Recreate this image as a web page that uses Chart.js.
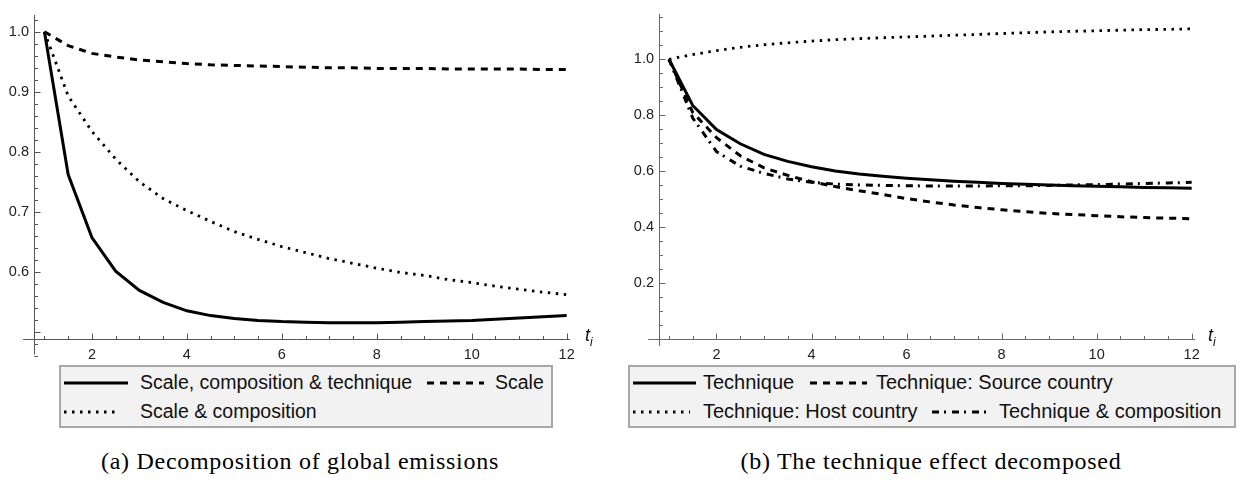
<!DOCTYPE html>
<html>
<head>
<meta charset="utf-8">
<script src="https://cdn.jsdelivr.net/npm/chart.js@4.4.0/dist/chart.umd.min.js"></script>
<style>
  body { margin: 0; background: #fff; width: 1241px; height: 495px; position: relative; overflow: hidden; font-family: "Liberation Sans", Arial, sans-serif; }
  canvas { position: absolute; top: 0; }
  .legend { position: absolute; background: #f2f2f2; border: 2px solid #a8a8a8; box-sizing: border-box; }
  .item { position: absolute; white-space: nowrap; color: #111; line-height: 20px; }
  .sample { position: absolute; }
  .caption { position: absolute; font-family: "Liberation Serif", serif; font-size: 24px; letter-spacing: 0.7px; text-align: center; width: 600px; }
  .tlab { position: absolute; font-style: italic; font-size: 18px; color: #111; }
  .tlab sub { font-size: 12px; }
</style>
</head>
<body>
<canvas id="chartA" width="615" height="366" style="left:0"></canvas>
<canvas id="chartB" width="621" height="366" style="left:620px"></canvas>
<div class="tlab" style="left:585px; top:325px">t<sub>i</sub></div>
<div class="tlab" style="left:1208px; top:325px">t<sub>i</sub></div>
<div class="caption" style="left:0; top:448px">(a) Decomposition of global emissions</div>
<div class="caption" style="left:631px; top:448px">(b) The technique effect decomposed</div>
<script>
// time points
const tValues = [1, 1.5, 2, 2.5, 3, 3.5, 4, 4.5, 5, 5.5, 6, 6.5, 7, 7.5, 8, 8.5, 9, 9.5, 10, 10.5, 11, 11.5, 12];

// (a) decomposition of global emissions
const scaleCompTech = [1.0, 0.762, 0.657, 0.601, 0.569, 0.549, 0.535, 0.527, 0.522, 0.519, 0.517, 0.516, 0.515, 0.515, 0.515, 0.516, 0.517, 0.518, 0.519, 0.521, 0.523, 0.525, 0.527];
const scaleOnly = [1.0, 0.977, 0.964, 0.958, 0.953, 0.950, 0.947, 0.945, 0.944, 0.943, 0.942, 0.941, 0.940, 0.940, 0.939, 0.939, 0.939, 0.938, 0.938, 0.938, 0.938, 0.937, 0.937];
const scaleComp = [1.0, 0.893, 0.834, 0.788, 0.750, 0.722, 0.702, 0.684, 0.667, 0.654, 0.642, 0.632, 0.622, 0.614, 0.606, 0.599, 0.594, 0.587, 0.582, 0.576, 0.571, 0.566, 0.562];

// (b) technique effect decomposed
const technique = [1.0, 0.835, 0.749, 0.698, 0.660, 0.635, 0.616, 0.601, 0.590, 0.582, 0.575, 0.569, 0.564, 0.560, 0.556, 0.553, 0.551, 0.548, 0.546, 0.544, 0.542, 0.541, 0.539];
const techSource = [1.0, 0.810, 0.720, 0.655, 0.612, 0.585, 0.562, 0.545, 0.530, 0.517, 0.502, 0.490, 0.479, 0.470, 0.462, 0.455, 0.449, 0.445, 0.441, 0.437, 0.434, 0.432, 0.430];
const techHost = [1.0, 1.017, 1.031, 1.043, 1.052, 1.059, 1.065, 1.070, 1.074, 1.077, 1.080, 1.083, 1.086, 1.089, 1.092, 1.095, 1.098, 1.100, 1.102, 1.104, 1.106, 1.107, 1.109];
const techComp = [1.0, 0.790, 0.670, 0.618, 0.592, 0.572, 0.560, 0.554, 0.551, 0.549, 0.548, 0.547, 0.547, 0.547, 0.548, 0.548, 0.549, 0.551, 0.552, 0.554, 0.556, 0.558, 0.560];

// tick labels
const xTickLabels = [2, 4, 6, 8, 10, 12];
const yTickLabelsA = [0.6, 0.7, 0.8, 0.9, 1.0];
const yTickLabelsB = [0.2, 0.4, 0.6, 0.8, 1.0];

const SOLID = [], DASHED = [7, 6], DOTTED = [2.5, 5.5], DASHDOT = [7, 5, 2, 6];

function series(label, values, dash, width) {
  return {
    label: label,
    data: tValues.map((t, i) => ({ x: t, y: values[i] })),
    borderColor: '#000',
    borderWidth: width,
    borderDash: dash,
    fill: false
  };
}

// Mathematica-style axes: lines crossing inside the frame, ticks pointing inwards
const mathAxes = {
  id: 'mathAxes',
  beforeDatasetsDraw(chart, args, o) {
    const { ctx, chartArea: a, scales: { x, y } } = chart;
    const x0 = Math.round(x.getPixelForValue(o.yAxisAt)) + 0.5;
    const y0 = Math.round(y.getPixelForValue(o.xAxisAt)) + 0.5;
    ctx.save();
    ctx.strokeStyle = o.color;
    ctx.lineWidth = 1;
    ctx.beginPath();
    ctx.moveTo(x.getPixelForValue(o.xFrom), y0);
    ctx.lineTo(a.right, y0);
    ctx.moveTo(x0, y.getPixelForValue(o.yFrom));
    ctx.lineTo(x0, y.getPixelForValue(o.yTo));
    for (let i = 0; ; i++) {
      const v = o.xTickStart + i * o.xMinor;
      if (v > x.max) break;
      const px = Math.round(x.getPixelForValue(v)) + 0.5;
      const major = Math.abs(v / o.xMajor - Math.round(v / o.xMajor)) < 1e-6;
      ctx.moveTo(px, y0);
      ctx.lineTo(px, y0 - (major ? 6 : 3.5));
    }
    for (let i = 0; ; i++) {
      const v = o.yTickStart + i * o.yMinor;
      if (v > o.yTo) break;
      const py = Math.round(y.getPixelForValue(v)) + 0.5;
      const major = Math.abs(v / o.yMajor - Math.round(v / o.yMajor)) < 1e-6;
      ctx.moveTo(x0, py);
      ctx.lineTo(x0 + (major ? 6 : 3.5), py);
    }
    ctx.stroke();
    ctx.restore();
  }
};

function makeChart(id, datasets, o) {
  return new Chart(document.getElementById(id), {
    type: 'line',
    data: { datasets: datasets },
    plugins: [mathAxes],
    options: {
      responsive: false,
      animation: false,
      layout: { padding: { top: o.padTop, right: o.padRight, left: 0, bottom: 0 } },
      elements: { point: { radius: 0 }, line: { tension: 0, borderCapStyle: 'butt' } },
      plugins: { legend: { display: false }, tooltip: { enabled: false }, mathAxes: o.axes },
      scales: {
        x: {
          type: 'linear', min: o.xMin, max: o.xMax,
          grid: { display: false, drawTicks: false }, border: { display: false },
          afterBuildTicks: s => { s.ticks = xTickLabels.map(v => ({ value: v })); },
          afterFit: s => { s.height = 27; },
          ticks: { color: '#222', padding: 7, maxRotation: 0, autoSkip: false,
                   font: { family: 'Liberation Sans', size: 14.5 }, callback: v => String(v) }
        },
        y: {
          type: 'linear', min: o.yMin, max: o.yMax,
          grid: { display: false, drawTicks: false }, border: { display: false },
          afterBuildTicks: s => { s.ticks = o.yTicks.map(v => ({ value: v })); },
          afterFit: s => { s.width = o.yWidth; },
          ticks: { color: '#222', padding: 5, autoSkip: false,
                   font: { family: 'Liberation Sans', size: 14.5 }, callback: v => v.toFixed(1) }
        }
      }
    }
  });
}

const chartA = makeChart('chartA', [
  series('Scale, composition & technique', scaleCompTech, SOLID, 3),
  series('Scale', scaleOnly, DASHED, 3),
  series('Scale & composition', scaleComp, DOTTED, 2.8)
], {
  padTop: 15, padRight: 45, yWidth: 34,
  xMin: 0.78, xMax: 12.07, yMin: 0.488, yMax: 1.028, yTicks: yTickLabelsA,
  axes: { color: '#555', yAxisAt: 0.78, xAxisAt: 0.488, xFrom: 0.55, yFrom: 0.462, yTo: 1.028,
          xTickStart: 1, xMinor: 0.5, xMajor: 2, yTickStart: 0.46, yMinor: 0.02, yMajor: 0.1 }
});

const chartB = makeChart('chartB', [
  series('Technique', technique, SOLID, 3),
  series('Technique: Source country', techSource, DASHED, 3),
  series('Technique: Host country', techHost, DOTTED, 2.8),
  series('Technique & composition', techComp, DASHDOT, 3)
], {
  padTop: 6, padRight: 46, yWidth: 39,
  xMin: 0.79, xMax: 12.07, yMin: 0, yMax: 1.163, yTicks: yTickLabelsB,
  axes: { color: '#6a6a6a', yAxisAt: 0.79, xAxisAt: 0, xFrom: 0.56, yFrom: -0.025, yTo: 1.163,
          xTickStart: 1, xMinor: 0.5, xMajor: 2, yTickStart: 0.05, yMinor: 0.05, yMajor: 0.2 }
});

// legend boxes built from the charts' datasets
function buildLegend(chart, box, slots) {
  const div = document.createElement('div');
  div.className = 'legend';
  Object.assign(div.style, { left: box.left + 'px', top: box.top + 'px', width: box.width + 'px', height: box.height + 'px' });
  slots.forEach(s => {
    const ds = chart.data.datasets[s.ds];
    const cy = s.row === 0 ? box.row1 : box.row2;
    const svg = document.createElementNS('http://www.w3.org/2000/svg', 'svg');
    svg.setAttribute('class', 'sample');
    svg.setAttribute('width', s.w);
    svg.setAttribute('height', 8);
    svg.style.left = (s.x - box.left) + 'px';
    svg.style.top = (cy - 4) + 'px';
    const ln = document.createElementNS('http://www.w3.org/2000/svg', 'line');
    ln.setAttribute('x1', 0); ln.setAttribute('x2', s.w);
    ln.setAttribute('y1', 4); ln.setAttribute('y2', 4);
    ln.setAttribute('stroke', '#000');
    ln.setAttribute('stroke-width', ds.borderWidth);
    if (ds.borderDash.length) ln.setAttribute('stroke-dasharray', ds.borderDash.join(' '));
    svg.appendChild(ln);
    div.appendChild(svg);
    const t = document.createElement('div');
    t.className = 'item';
    t.style.fontSize = box.font + 'px';
    t.textContent = ds.label;
    t.style.left = (s.tx - box.left) + 'px';
    t.style.top = (cy - 11) + 'px';
    div.appendChild(t);
  });
  document.body.appendChild(div);
}

buildLegend(chartA, { left: 59, top: 365, width: 494, height: 63, row1: 16, row2: 45, font: 19.5 }, [
  { ds: 0, row: 0, x: 62, w: 64, tx: 138 },
  { ds: 1, row: 0, x: 425, w: 57, tx: 493 },
  { ds: 2, row: 1, x: 62, w: 56, tx: 138 }
]);
buildLegend(chartB, { left: 628, top: 365, width: 608, height: 63, row1: 16, row2: 45, font: 20 }, [
  { ds: 0, row: 0, x: 631, w: 63, tx: 701 },
  { ds: 1, row: 0, x: 808, w: 57, tx: 874 },
  { ds: 2, row: 1, x: 631, w: 57, tx: 701 },
  { ds: 3, row: 1, x: 930, w: 57, tx: 997 }
]);
</script>
</body>
</html>
